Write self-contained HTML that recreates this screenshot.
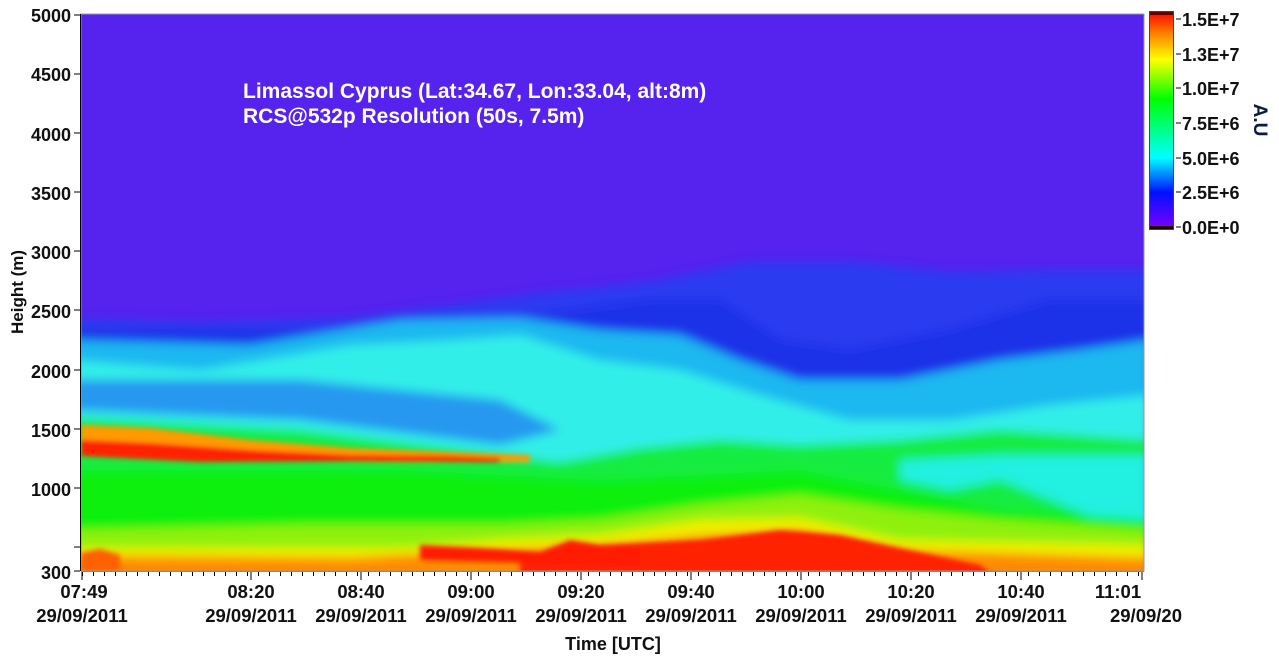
<!DOCTYPE html>
<html><head><meta charset="utf-8"><style>
html,body{margin:0;padding:0;background:#fff;width:1279px;height:665px;overflow:hidden}
svg{display:block}
text{font-family:"Liberation Sans",sans-serif;font-weight:bold;fill:#111}
</style></head><body>
<svg width="1279" height="665" viewBox="0 0 1279 665">
<defs>
<clipPath id="pc"><rect x="81" y="14" width="1063" height="557"/></clipPath>
<filter id="bl" x="-5%" y="-5%" width="110%" height="110%"><feGaussianBlur stdDeviation="5"/></filter>
<filter id="bl2"><feGaussianBlur stdDeviation="2.5"/></filter>
<linearGradient id="cb" x1="0" y1="1" x2="0" y2="0">
<stop offset="0" stop-color="#8000ff"/><stop offset="0.17" stop-color="#0010ff"/>
<stop offset="0.33" stop-color="#00ffff"/><stop offset="0.5" stop-color="#00ff60"/>
<stop offset="0.6" stop-color="#00ff00"/><stop offset="0.78" stop-color="#ffff00"/>
<stop offset="0.9" stop-color="#ff8000"/><stop offset="1" stop-color="#ff0000"/>
</linearGradient>
<pattern id="mt" x="82" y="0" width="11" height="665" patternUnits="userSpaceOnUse">
<line x1="0.5" y1="572" x2="0.5" y2="576" stroke="#000"/>
</pattern>
</defs>
<g clip-path="url(#pc)">
<rect x="81" y="14" width="1063" height="557" fill="#5522ee"/>
<g filter="url(#bl)">
<polygon fill="#2a3af0" points="70,318 200,322 350,318 450,305 550,292 650,282 750,262 850,262 950,272 1050,270 1150,270 1150,600 70,600"/>
<polygon fill="#1a30e8" points="70,330 300,330 500,320 650,300 720,300 780,340 850,350 950,330 1050,300 1150,300 1150,600 70,600"/>
<polygon fill="#1fb8f0" points="70,340 250,345 400,320 520,318 600,330 680,335 740,360 800,380 900,380 1000,360 1080,350 1150,340 1150,600 70,600"/>
<polygon fill="#30eee8" points="70,360 200,370 350,345 450,340 520,335 600,360 680,370 760,395 850,420 950,420 1050,405 1150,395 1150,600 70,600"/>
<polygon fill="#2898f0" points="70,380 300,380 500,400 560,430 500,445 300,420 70,410"/>
<polygon fill="#18ec40" points="70,418 300,430 500,455 560,462 640,448 720,440 800,445 900,440 1000,430 1150,440 1150,600 70,600"/>
<polygon fill="#20f0e0" points="900,460 1000,455 1150,455 1150,540 1100,520 1050,500 1000,480 950,490 900,480"/>
<polygon fill="#08f008" points="70,470 400,470 600,480 800,470 900,490 1000,510 1150,520 1150,600 70,600"/>
<polygon fill="#90f010" points="70,530 300,525 500,525 600,520 700,505 800,495 900,510 1000,520 1150,530 1150,600 70,600"/>
<polygon fill="#f0f000" points="70,548 400,548 500,540 600,535 700,520 800,518 900,540 1150,545 1150,600 70,600"/>
<polygon fill="#ff8a00" points="70,556 350,558 500,550 600,545 700,535 800,530 900,550 1150,558 1150,600 70,600"/>
</g>
<g filter="url(#bl2)">
<polygon fill="#ff2000" points="560,555 600,545 700,540 780,530 840,535 900,548 980,565 1000,580 520,580 520,560"/>
<polygon fill="#ff1a00" points="420,545 480,548 540,552 570,540 600,545 640,550 640,565 420,560"/>
<polygon fill="#ff9a00" points="81,425 150,428 250,440 350,448 450,452 530,455 530,462 400,462 250,460 150,458 81,455"/>
<polygon fill="#ff2000" points="81,440 150,443 250,450 350,455 450,456 500,458 500,462 350,461 200,462 81,456"/>
<polygon fill="#ff6000" points="81,553 100,549 120,555 120,571 81,571"/>
</g>
</g>
<rect x="81" y="14" width="1063" height="557" fill="none" stroke="#999" stroke-width="1"/>
<line x1="80.5" y1="14" x2="80.5" y2="571" stroke="#000"/>
<line x1="81" y1="571.5" x2="1144" y2="571.5" stroke="#888"/>
<text x="243" y="98" font-size="21" style="fill:#fff">Limassol Cyprus (Lat:34.67, Lon:33.04, alt:8m)</text>
<text x="243" y="123" font-size="21" style="fill:#fff">RCS@532p Resolution (50s, 7.5m)</text>
<g font-size="18" text-anchor="end">
<text x="71" y="22">5000</text><text x="71" y="81">4500</text><text x="71" y="141">4000</text>
<text x="71" y="200">3500</text><text x="71" y="259">3000</text><text x="71" y="318">2500</text>
<text x="71" y="378">2000</text><text x="71" y="437">1500</text><text x="71" y="496">1000</text>
<text x="71" y="579">300</text>
</g>
<g stroke="#000">
<line x1="74" x2="80" y1="15" y2="15"/><line x1="74" x2="80" y1="74" y2="74"/><line x1="74" x2="80" y1="133" y2="133"/>
<line x1="74" x2="80" y1="192" y2="192"/><line x1="74" x2="80" y1="251" y2="251"/><line x1="74" x2="80" y1="310" y2="310"/>
<line x1="74" x2="80" y1="370" y2="370"/><line x1="74" x2="80" y1="429" y2="429"/><line x1="74" x2="80" y1="488" y2="488"/>
<line x1="74" x2="80" y1="547" y2="547"/><line x1="74" x2="80" y1="571" y2="571"/>
</g>
<text transform="translate(23,292) rotate(-90)" font-size="17" text-anchor="middle">Height (m)</text>
<rect x="81" y="572" width="1063" height="6" fill="url(#mt)"/>
<g stroke="#000">
<line x1="82" x2="82" y1="572" y2="580"/><line x1="251" x2="251" y1="572" y2="580"/><line x1="361" x2="361" y1="572" y2="580"/>
<line x1="471" x2="471" y1="572" y2="580"/><line x1="581" x2="581" y1="572" y2="580"/><line x1="691" x2="691" y1="572" y2="580"/>
<line x1="801" x2="801" y1="572" y2="580"/><line x1="911" x2="911" y1="572" y2="580"/><line x1="1021" x2="1021" y1="572" y2="580"/>
<line x1="1142" x2="1142" y1="572" y2="580"/>
</g>
<g font-size="18.5" text-anchor="middle">
<text x="84" y="598">07:49</text><text x="82" y="622">29/09/2011</text>
<text x="251" y="598">08:20</text><text x="251" y="622">29/09/2011</text>
<text x="361" y="598">08:40</text><text x="361" y="622">29/09/2011</text>
<text x="471" y="598">09:00</text><text x="471" y="622">29/09/2011</text>
<text x="581" y="598">09:20</text><text x="581" y="622">29/09/2011</text>
<text x="691" y="598">09:40</text><text x="691" y="622">29/09/2011</text>
<text x="801" y="598">10:00</text><text x="801" y="622">29/09/2011</text>
<text x="911" y="598">10:20</text><text x="911" y="622">29/09/2011</text>
<text x="1021" y="598">10:40</text><text x="1021" y="622">29/09/2011</text>
<text x="1118" y="598">11:01</text><text x="1146" y="622">29/09/20</text>
</g>
<text x="613" y="650" font-size="18" text-anchor="middle">Time [UTC]</text>
<rect x="1149.5" y="11.5" width="24" height="218" fill="url(#cb)" stroke="#e00000"/>
<rect x="1150" y="12" width="23" height="3" fill="#600"/>
<rect x="1150" y="226" width="23" height="3" fill="#200"/>
<g stroke="#000"><line x1="1176" x2="1181" y1="19" y2="19"/><line x1="1176" x2="1181" y1="54" y2="54"/><line x1="1176" x2="1181" y1="88" y2="88"/><line x1="1176" x2="1181" y1="123" y2="123"/><line x1="1176" x2="1181" y1="158" y2="158"/><line x1="1176" x2="1181" y1="192" y2="192"/><line x1="1176" x2="1181" y1="227" y2="227"/></g>
<g font-size="18">
<text x="1182" y="26">1.5E+7</text><text x="1182" y="61">1.3E+7</text><text x="1182" y="95">1.0E+7</text>
<text x="1182" y="130">7.5E+6</text><text x="1182" y="165">5.0E+6</text><text x="1182" y="199">2.5E+6</text>
<text x="1182" y="234">0.0E+0</text>
</g>
<text transform="translate(1254,120) rotate(90)" font-size="19" text-anchor="middle" style="fill:#0a1a40">A.U</text>
</svg>
</body></html>
